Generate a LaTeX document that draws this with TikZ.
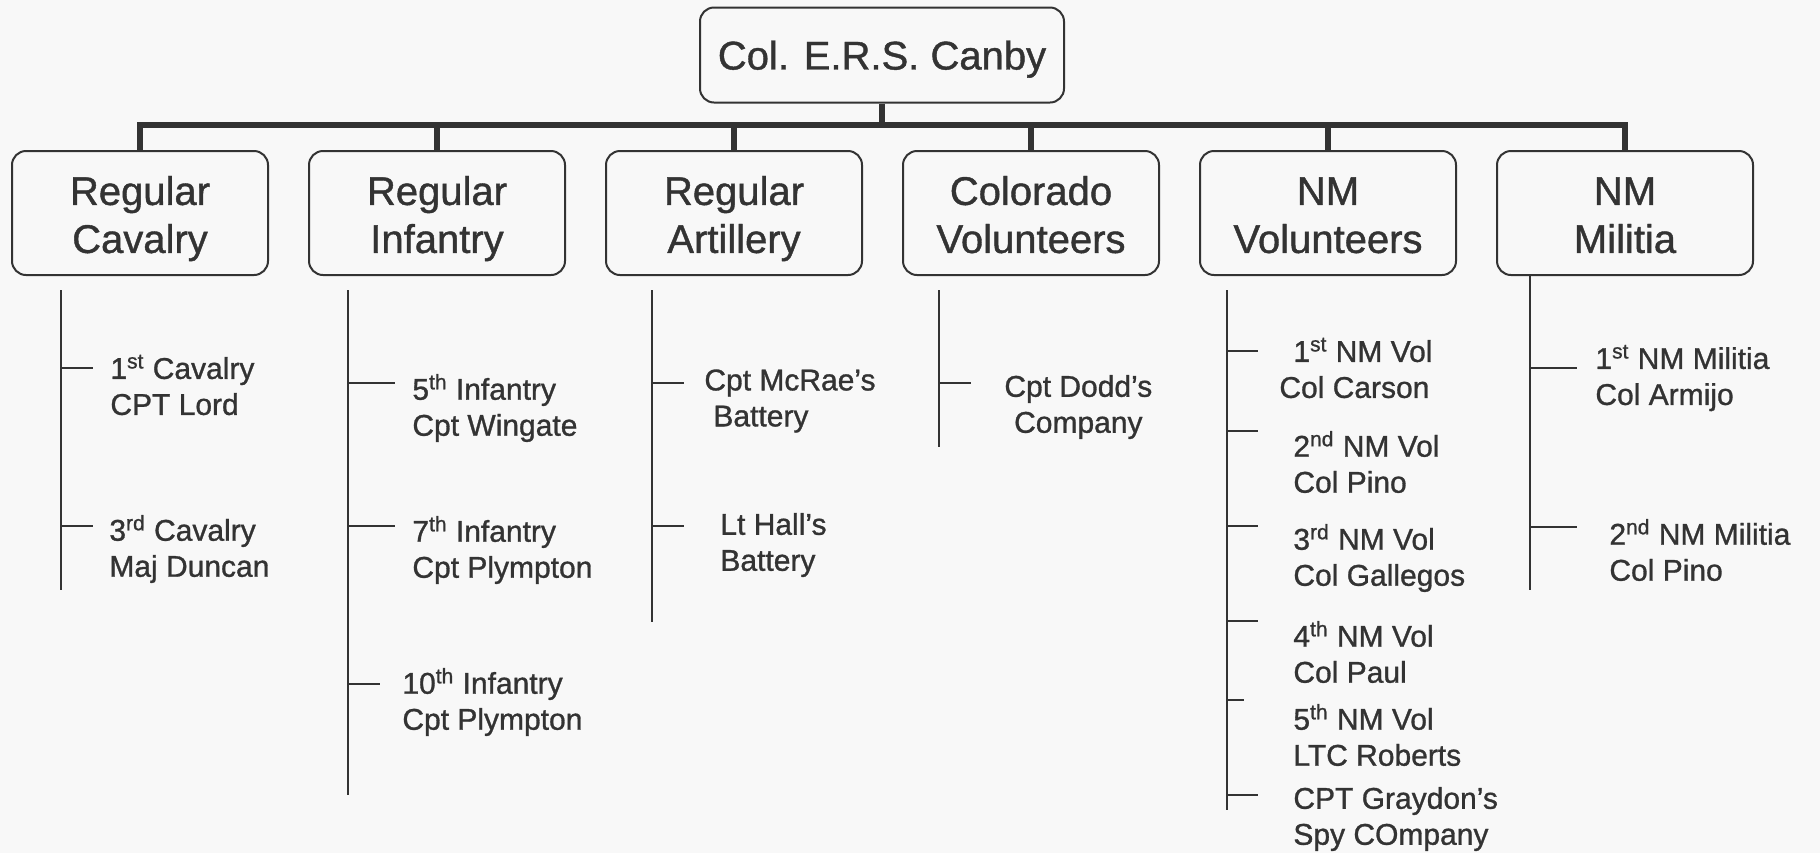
\documentclass[tikz,border=0pt]{standalone}
\usepackage{fontspec}
\setmainfont{Liberation Sans}[FakeBold=1.0]
\usepackage{tikz}

\definecolor{ink}{HTML}{333333}
\definecolor{paper}{HTML}{F8F8F8}

% two centred lines, set on a box of no height so that the node is sized by its minimum size
\newcommand{\branchname}[2]{\raisebox{-8.35pt}[0pt][0pt]{\begin{tabular}{@{}c@{}}#1\\#2\end{tabular}}}

\tikzset{
  unitbox/.style={draw=ink,line width=1pt,rounded corners=7pt,minimum width=128pt,minimum height=62pt,text=ink,font=\fontsize{20}{24}\selectfont},
  topbox/.style={draw=ink,line width=1pt,rounded corners=7pt,minimum width=182pt,minimum height=47.5pt,text depth=0pt,text=ink,font=\fontsize{20}{24}\selectfont},
  subunit/.style={anchor=west,align=left,inner sep=0pt,text=ink,font=\fontsize{15}{18}\selectfont},
  bus/.style={draw=ink,line width=3pt},
  twig/.style={draw=ink,line width=1pt},
}

\begin{document}
\begin{tikzpicture}[x=0.5pt,y=-0.5pt]

\fill[paper] (0,0) rectangle (1820,853);
\useasboundingbox (0,0) rectangle (1820,853);

\node[topbox] (canby) at (882,55) {Col. E.R.S. Canby};

\foreach \n/\x/\a/\b in {cav/140/Regular/Cavalry,inf/437/Regular/Infantry,art/734/Regular/Artillery,
                         col/1031/Colorado/Volunteers,nmv/1328/NM/Volunteers,nmm/1625/NM/Militia}{
  \node[unitbox] (\n) at (\x,213) {\branchname{\a}{\b}};
}

% command bus
\coordinate (bus) at (0,125);
\draw[bus] (canby.south) -- (canby.south |- bus);
\draw[bus] (cav.north) -- (cav.north |- bus) -- (nmm.north |- bus) -- (nmm.north);
\foreach \n in {inf,art,col,nmv}{
  \draw[bus] (\n.north |- bus) -- (\n.north);
}

% trunks below each branch
\coordinate (cavtop) at (61,290);
\coordinate (inftop) at (348,290);
\coordinate (arttop) at (652,290);
\coordinate (coltop) at (939,290);
\coordinate (nmvtop) at (1227,290);
\coordinate (nmmtop) at (nmm.south -| 1530,0);

\draw[twig] (cavtop) -- ++(0,300);
\draw[twig] (inftop) -- ++(0,505);
\draw[twig] (arttop) -- ++(0,332);
\draw[twig] (coltop) -- ++(0,157);
\draw[twig] (nmvtop) -- ++(0,520);
\draw[twig] (nmmtop) -- (1530,590);

\foreach \y/\l in {368/32,526/32}{ \draw[twig] (cavtop |- 0,\y) -- ++(\l,0); }
\foreach \y/\l in {383/47,526/47,684/32}{ \draw[twig] (inftop |- 0,\y) -- ++(\l,0); }
\foreach \y/\l in {383/32,526/32}{ \draw[twig] (arttop |- 0,\y) -- ++(\l,0); }
\draw[twig] (coltop |- 0,383) -- ++(32,0);
\foreach \y/\l in {351/31,431/31,526/31,621/31,700/17,795/31}{ \draw[twig] (nmvtop |- 0,\y) -- ++(\l,0); }
\foreach \y/\l in {368/47,527/47}{ \draw[twig] (nmmtop |- 0,\y) -- ++(\l,0); }

% units
\node[subunit] (cav1) at (110,385) {1\textsuperscript{st} Cavalry\\CPT Lord};
\node[subunit] (cav3) at (109,549) {3\textsuperscript{rd} Cavalry\\Maj Duncan};

\node[subunit] (inf5) at (412,408) {5\textsuperscript{th} Infantry\\Cpt Wingate};
\node[subunit] (inf7) at (412,550) {7\textsuperscript{th} Infantry\\Cpt Plympton};
\node[subunit] (inf10) at (402,702) {10\textsuperscript{th} Infantry\\Cpt Plympton};

\node[subunit] (mcrae) at (704,401) {Cpt McRae's\\\hspace*{4.5pt}Battery};
\node[subunit] (hall) at (720,545) {Lt Hall's\\Battery};

\node[subunit,align=center] (dodd) at (1004,407) {Cpt Dodd's\\Company};

\node[subunit] (nmv1) at (1279,368) {\hspace*{7pt}1\textsuperscript{st} NM Vol\\Col Carson};
\node[subunit] (nmv2) at (1293,462) {2\textsuperscript{nd} NM Vol\\Col Pino};
\node[subunit] (nmv3) at (1293,558) {3\textsuperscript{rd} NM Vol\\Col Gallegos};
\node[subunit] (nmv4) at (1293,652) {4\textsuperscript{th} NM Vol\\Col Paul};
\node[subunit] (nmv5) at (1293,735) {5\textsuperscript{th} NM Vol\\LTC Roberts};
\node[subunit] (spy) at (1293,819) {CPT Graydon's\\Spy COmpany};

\node[subunit] (nmm1) at (1595,378) {1\textsuperscript{st} NM Militia\\Col Armijo};
\node[subunit] (nmm2) at (1609,550) {2\textsuperscript{nd} NM Militia\\Col Pino};

\end{tikzpicture}
\end{document}
